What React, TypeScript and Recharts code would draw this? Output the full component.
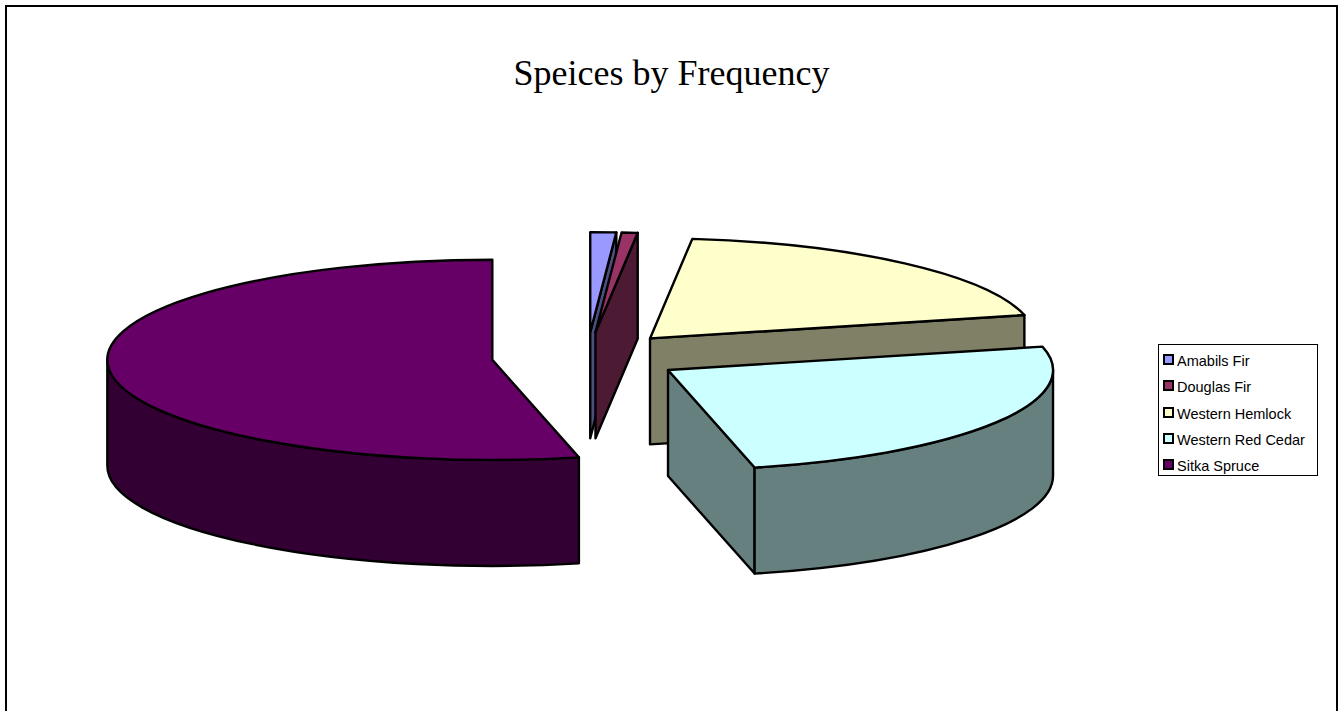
import React from 'react'
import { PieChart, Pie, Legend } from 'recharts'

// Share of each species (%), clockwise from 12 o'clock
const SPECIES = ['Amabils Fir', 'Douglas Fir', 'Western Hemlock', 'Western Red Cedar', 'Sitka Spruce']
const SHARES = [1.08, 0.67, 19.5, 25.14, 53.61]
const COLORS = ['#9999ff', '#993366', '#ffffcc', '#ccffff', '#660066']

const CHART_W = 1338
const CHART_H = 711
const TILT = 0.26 // ellipse height / width
const DEPTH = 106 // height of the pie walls
const EXPLODE = 0.2475

const slices = SPECIES.map((name, i) => ({ name, value: SHARES[i], fill: COLORS[i] }))

const darken = (hex: string) => {
  const n = parseInt(hex.slice(1), 16)
  const half = (v: number) => Math.round(v / 2)
  return `rgb(${half((n >> 16) & 255)},${half((n >> 8) & 255)},${half(n & 255)})`
}

const rad = (a: number) => (a * Math.PI) / 180

// Takes the sector Recharts worked out and draws it as a tilted, exploded 3D wedge
const Wedge3D = (props: any) => {
  const { cx, cy, outerRadius: r, startAngle, endAngle, fill } = props
  const mid = (startAngle + endAngle) / 2
  const ox = cx + EXPLODE * r * Math.cos(rad(mid))
  const oy = cy - EXPLODE * r * TILT * Math.sin(rad(mid))
  const ry = r * TILT
  const px = (a: number) => ox + r * Math.cos(rad(a))
  const py = (a: number) => oy - ry * Math.sin(rad(a))
  const wall = darken(fill)
  const line = { stroke: '#000', strokeWidth: 2.4, strokeLinejoin: 'round' as const }

  const big = startAngle - endAngle > 180 ? 1 : 0
  const top = `M${ox},${oy} L${px(startAngle)},${py(startAngle)} A${r},${ry} 0 ${big} 1 ${px(endAngle)},${py(endAngle)} Z`

  // cut face on the clockwise end, only seen when it turns towards the viewer
  const endSeen = Math.sin(rad(90 - endAngle)) > 0.001
  const cut = `M${ox},${oy} L${px(endAngle)},${py(endAngle)} v${DEPTH} L${ox},${oy + DEPTH} Z`

  // rounded outer wall, front half of the ellipse only
  const from = Math.min(startAngle, 0)
  const to = Math.max(endAngle, -180)
  const outer =
    from > to
      ? `M${px(from)},${py(from)} A${r},${ry} 0 0 1 ${px(to)},${py(to)} v${DEPTH} A${r},${ry} 0 0 0 ${px(from)},${py(from) + DEPTH} Z`
      : null

  return (
    <g>
      {endSeen && <path d={cut} fill={wall} {...line} />}
      {outer && <path d={outer} fill={wall} {...line} />}
      <path d={top} fill={fill} {...line} />
    </g>
  )
}

const LegendBox = ({ payload }: any) => (
  <div
    style={{
      width: 154,
      height: 127,
      border: '1px solid #000',
      background: '#fff',
      fontFamily: '"Liberation Sans", Arial, sans-serif',
      fontSize: 14.5,
      color: '#000',
      padding: '3px 0 0 4px',
      boxSizing: 'content-box'
    }}
  >
    {(payload || []).map((entry: any) => (
      <div key={entry.value} style={{ height: 26.3, display: 'flex', alignItems: 'center', whiteSpace: 'nowrap' }}>
        <span
          style={{
            width: 7,
            height: 7,
            border: '2px solid #000',
            background: entry.color,
            marginRight: 3,
            marginTop: -3,
            flex: 'none'
          }}
        />
        <span>{entry.value}</span>
      </div>
    ))}
  </div>
)

export default function App() {
  return (
    <div style={{ position: 'absolute', left: 0, top: 0, width: CHART_W, height: CHART_H, overflow: 'hidden', background: '#fff' }}>
      <div
        style={{
          position: 'absolute',
          left: 5,
          top: 5,
          width: 1329,
          height: 720,
          borderLeft: '2px solid #000',
          borderTop: '2px solid #000',
          borderRight: '2px solid #000'
        }}
      />
      <div
        style={{
          position: 'absolute',
          left: 0,
          top: 50,
          width: 1343,
          textAlign: 'center',
          fontFamily: '"Liberation Serif", "Times New Roman", serif',
          fontSize: 36,
          lineHeight: '46px',
          color: '#000'
        }}
      >
        Speices by Frequency
      </div>
      <PieChart width={CHART_W} height={CHART_H} style={{ position: 'absolute', left: 0, top: 0 }} margin={{ top: 0, right: 0, bottom: 0, left: 0 }}>
        <Pie
          data={slices}
          dataKey="value"
          nameKey="name"
          cx={587}
          cy={357}
          innerRadius={0}
          outerRadius={385}
          startAngle={90}
          endAngle={-270}
          stroke="#000"
          isAnimationActive={false}
          shape={Wedge3D}
          inactiveShape={Wedge3D}
          activeShape={Wedge3D}
        />
        <Legend
          layout="vertical"
          itemSorter={null}
          content={LegendBox}
          wrapperStyle={{ position: 'absolute', left: 1158, top: 344, width: 160, bottom: 'auto', right: 'auto' }}
        />
      </PieChart>
    </div>
  )
}
